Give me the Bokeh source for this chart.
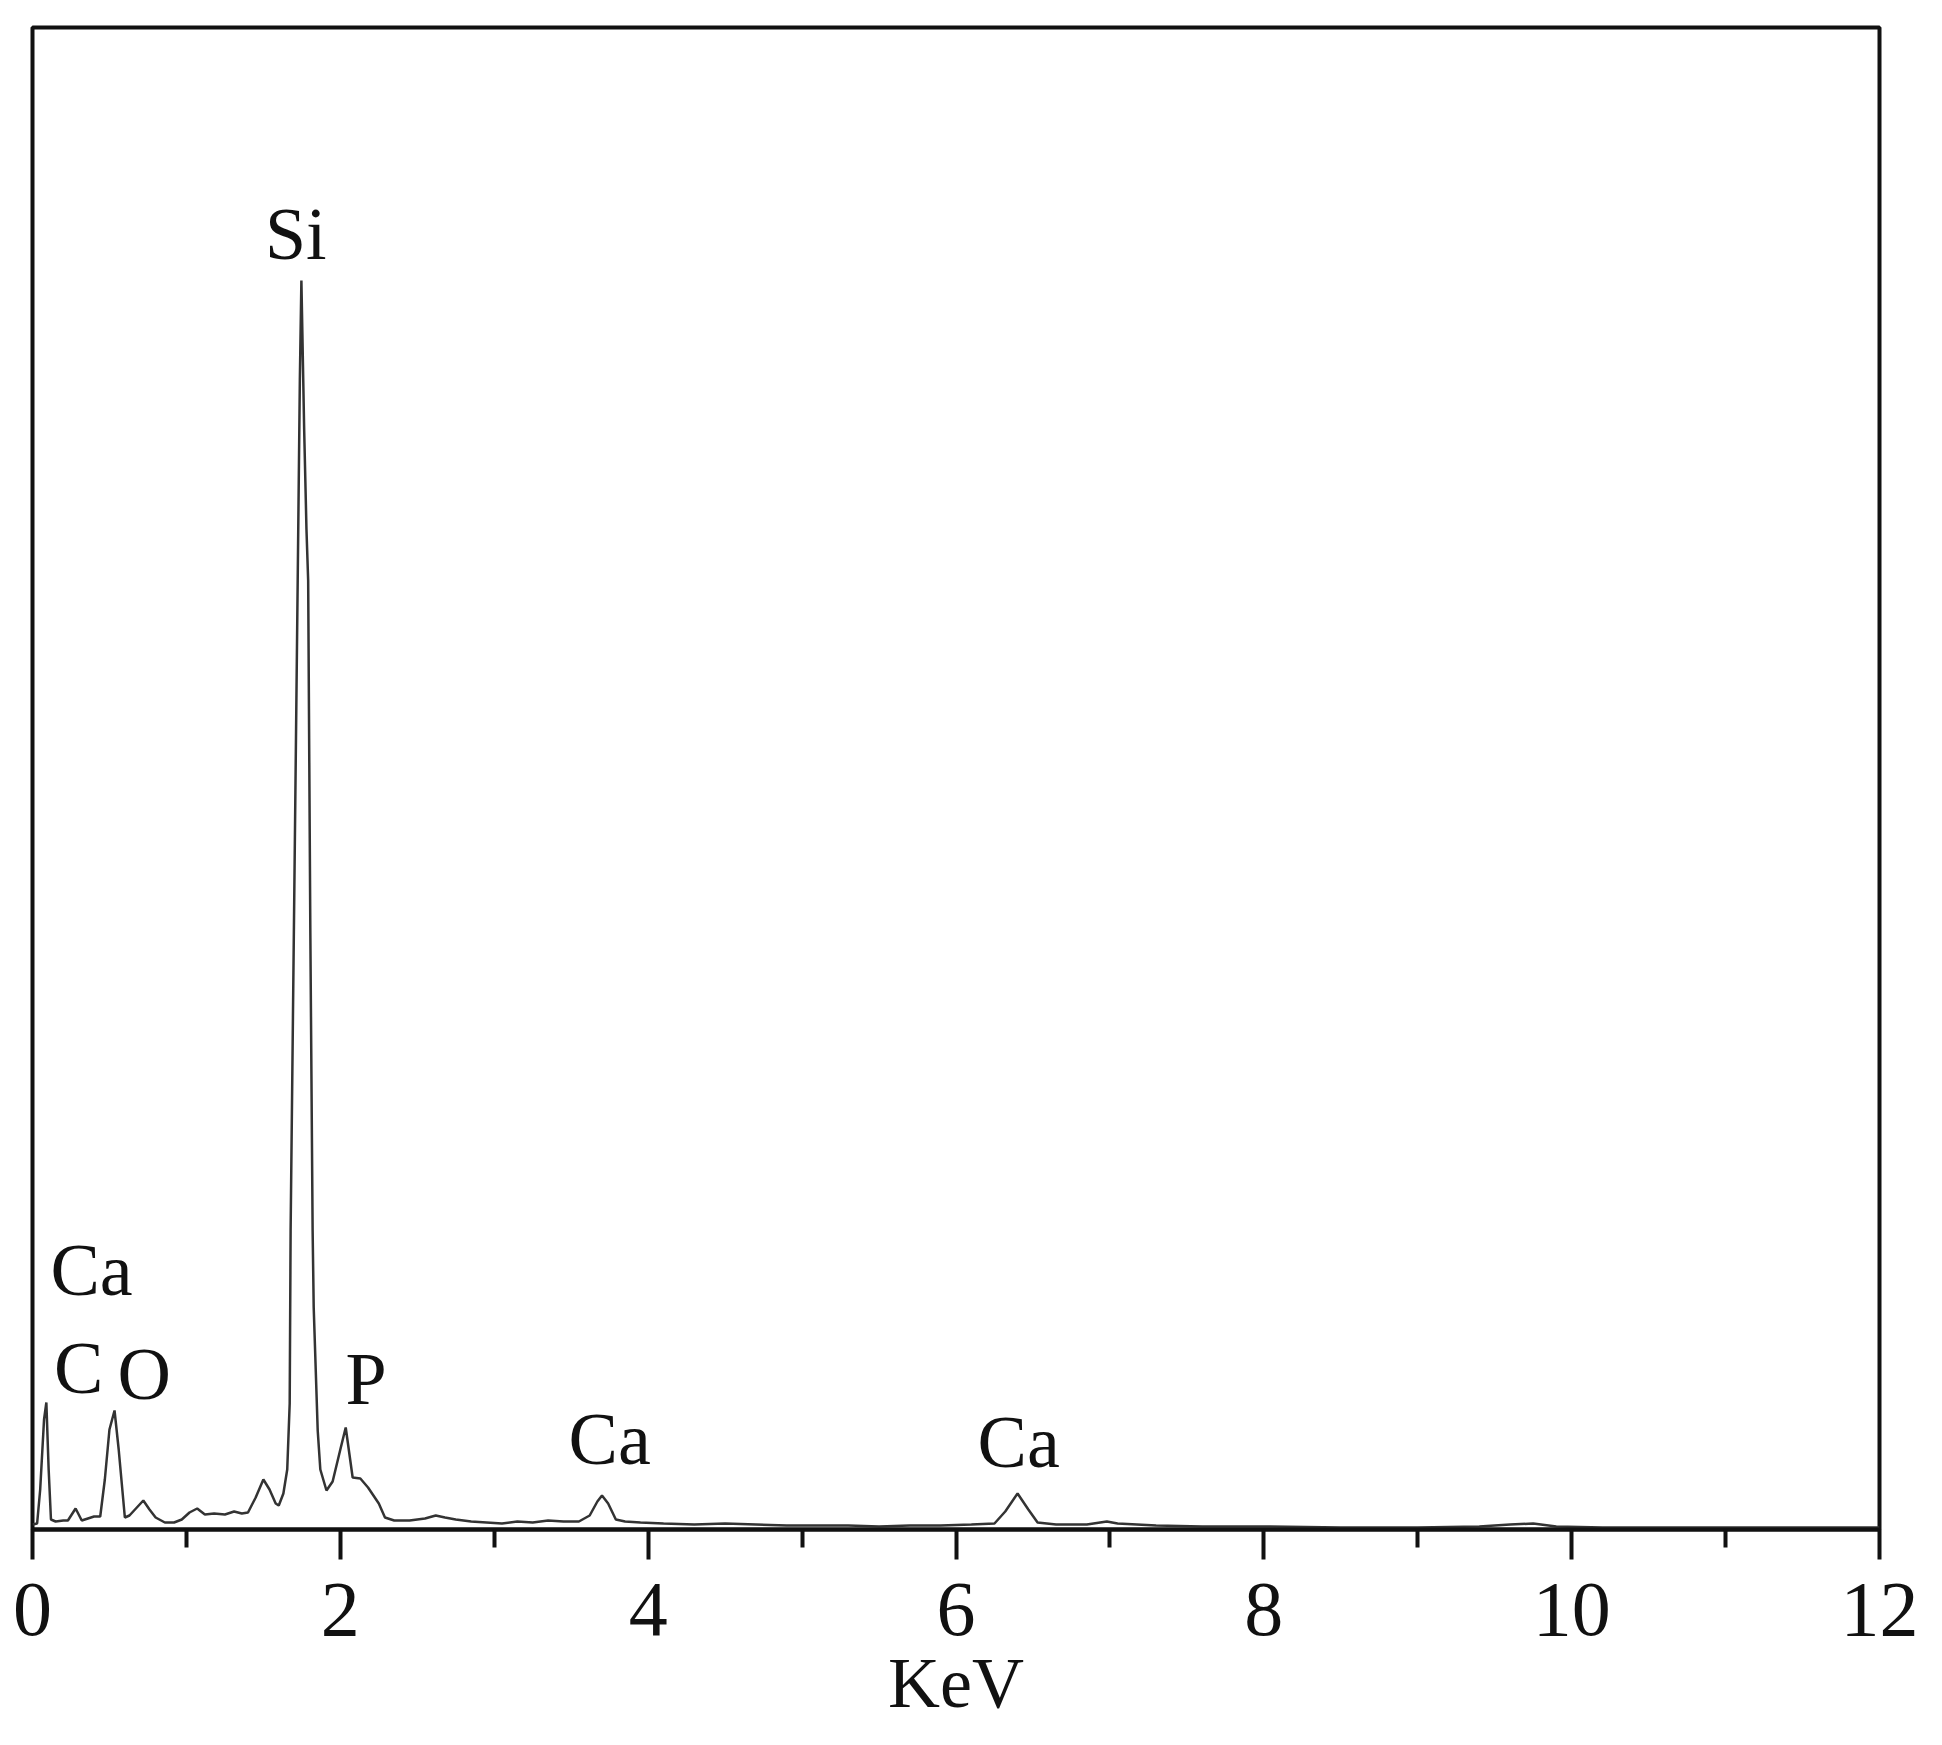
from bokeh.plotting import figure
from bokeh.models import Range1d, FixedTicker, ColumnDataSource
from bokeh.core.properties import value
from bokeh.embed import file_html
from bokeh.resources import INLINE

# EDS spectrum (energy in keV, intensity in arbitrary units)
energy_kev = [
    0.00, 0.03, 0.05, 0.075, 0.09, 0.105, 0.12, 0.15, 0.20, 0.23, 0.28, 0.32, 0.36, 0.40, 0.44,
    0.47, 0.50, 0.533, 0.56, 0.60, 0.63, 0.66, 0.72, 0.76, 0.80, 0.86, 0.92, 0.97, 1.02, 1.07,
    1.12, 1.18, 1.25, 1.31, 1.36, 1.40, 1.45, 1.50, 1.54, 1.58, 1.60, 1.63, 1.655, 1.671, 1.677,
    1.70, 1.723, 1.737, 1.747, 1.765, 1.780, 1.791, 1.805, 1.820, 1.827, 1.853, 1.87, 1.91, 1.95,
    2.00, 2.035, 2.08, 2.13, 2.18, 2.25, 2.29, 2.35, 2.45, 2.55, 2.62, 2.68, 2.75, 2.85, 2.95,
    3.05, 3.15, 3.25, 3.35, 3.45, 3.55, 3.62, 3.67, 3.70, 3.74, 3.79, 3.85, 3.95, 4.10, 4.30,
    4.50, 4.70, 4.90, 5.10, 5.30, 5.50, 5.70, 5.90, 6.10, 6.25, 6.32, 6.40, 6.47, 6.53, 6.65,
    6.85, 6.98, 7.05, 7.30, 7.60, 8.00, 8.50, 9.00, 9.40, 9.60, 9.75, 9.90, 10.20, 10.50, 11.00,
    11.50, 12.00,
]
intensity = [
    5, 6, 40, 110, 127, 60, 10, 8, 9, 9, 21, 9, 11, 13, 13,
    50, 100, 119, 80, 12, 14, 19, 29, 20, 12, 7, 7, 10, 17, 21,
    15, 16, 15, 18, 16, 17, 32, 50, 40, 26, 24, 36, 60, 126, 299,
    624, 949, 1150, 1249, 1100, 1000, 949, 600, 299, 222, 99, 60, 39, 48,
    80, 102, 52, 51, 42, 26, 12, 9, 9, 11, 14, 12, 10, 8, 7,
    6, 8, 7, 9, 8, 8, 14, 28, 34, 26, 10, 8, 7, 6, 5,
    6, 5, 4, 4, 4, 3, 4, 4, 5, 6, 18, 36, 20, 7, 5,
    5, 8, 6, 4, 3, 3, 2, 2, 3, 5, 6, 3, 2, 2, 2,
    2, 2,
]

# Peak labels
label_text = ["Si", "Ca", "C", "O", "P", "Ca", "Ca"]
label_x = [1.51, 0.117, 0.14, 0.553, 2.034, 3.483, 6.14]
label_y = [1296, 260, 162, 156, 151, 91, 88]

x_ticks = [0, 2, 4, 6, 8, 10, 12]
x_minor_ticks = [1, 3, 5, 7, 9, 11]
x_tick_labels = ["0", "2", "4", "6", "8", "10", "12"]

FONT = "Liberation Serif"

p = figure(
    frame_width=1847, frame_height=1502,
    x_range=Range1d(0, 12), y_range=Range1d(0, 1502),
    y_axis_location=None,
    toolbar_location=None, output_backend="svg",
    min_border_left=32, min_border_top=27, min_border_right=50, min_border_bottom=5,
)
p.grid.visible = False
p.background_fill_color = "white"
p.border_fill_color = "white"
p.outline_line_color = "#111111"
p.outline_line_width = 4

ax = p.xaxis[0]
ax.ticker = FixedTicker(ticks=x_ticks, minor_ticks=x_minor_ticks)
ax.major_label_overrides = {t: s for t, s in zip(x_ticks, x_tick_labels)}
ax.axis_line_color = "#111111"
ax.axis_line_width = 4
ax.major_tick_in = 0
ax.major_tick_out = 30
ax.minor_tick_in = 0
ax.minor_tick_out = 18
ax.major_tick_line_width = 4
ax.minor_tick_line_width = 4
ax.major_tick_line_color = "#111111"
ax.minor_tick_line_color = "#111111"
ax.major_label_text_font = FONT
ax.major_label_text_font_size = "78px"
ax.major_label_text_color = "#111111"
ax.major_label_standoff = 24
ax.axis_label = "KeV"
ax.axis_label_text_font = FONT
ax.axis_label_text_font_size = "72px"
ax.axis_label_text_font_style = "normal"
ax.axis_label_text_color = "#111111"
ax.axis_label_standoff = 5

src = ColumnDataSource(dict(x=energy_kev, y=intensity))
p.line("x", "y", source=src, line_color="#333333", line_width=2.5)

lsrc = ColumnDataSource(dict(x=label_x, y=label_y, t=label_text))
p.text("x", "y", text="t", source=lsrc, text_font=value(FONT), text_font_size="74px",
       text_color="#111111", text_align="left", text_baseline="alphabetic")

open("out.html", "w").write(file_html(p, INLINE))
